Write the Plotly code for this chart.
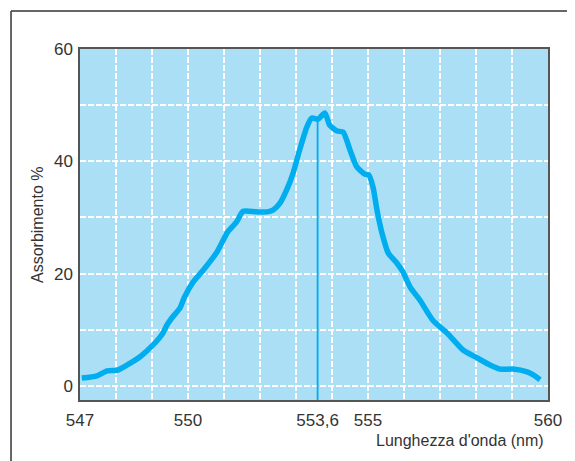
import plotly.graph_objects as go

wavelength = [547.05, 547.47, 547.75, 548.03, 548.3, 548.67, 549.03, 549.3, 549.42, 549.55,
              549.78, 549.9, 550.14, 550.42, 550.8, 551.1, 551.35, 551.53, 551.9, 552.2,
              552.36, 552.56, 552.74, 552.92, 553.1, 553.3, 553.44, 553.61, 553.8, 553.94,
              554.14, 554.31, 554.5, 554.69, 554.92, 555.02, 555.14, 555.25, 555.39, 555.56,
              555.8, 555.97, 556.17, 556.44, 556.8, 557.2, 557.64, 558.03, 558.4, 558.67,
              559.03, 559.42, 559.58, 559.78]
absorbance = [1.4, 1.8, 2.7, 2.8, 3.7, 5.2, 7.3, 9.4, 10.9, 12.1,
              13.9, 15.8, 18.5, 20.6, 23.8, 27.4, 29.2, 31.1, 31.0, 31.0,
              31.3, 32.6, 34.9, 37.9, 42.0, 46.1, 47.7, 47.5, 48.6, 46.4,
              45.4, 45.2, 42.0, 39.0, 37.7, 37.6, 35.4, 31.3, 27.2, 23.7,
              21.9, 20.3, 17.6, 15.3, 11.7, 9.4, 6.4, 5.0, 3.7, 3.0,
              3.0, 2.5, 2.0, 1.1]

peak_wavelength = 553.6
peak_value = 47.5

x_tickvals = [547, 550, 553.6, 555, 560]
x_ticktext = ["547", "550", "553,6", "555", "560"]
y_tickvals = [0, 10, 20, 30, 40, 50, 60]
y_ticktext = ["0", "", "20", "", "40", "", "60"]

x_range = [547, 560]
y_range = [-2.5, 60]

FONT = "Liberation Sans, Arial, sans-serif"
BLUE = "#00AEEF"
TXT = "#333333"

fig = go.Figure()
fig.add_trace(go.Scatter(
    x=[peak_wavelength, peak_wavelength], y=[y_range[0], peak_value],
    mode="lines", line=dict(color=BLUE, width=1.8), hoverinfo="skip", showlegend=False))
fig.add_trace(go.Scatter(
    x=wavelength, y=absorbance, mode="lines",
    line=dict(color=BLUE, width=5.5, shape="spline", smoothing=0.6),
    showlegend=False))

fig.update_layout(
    width=567, height=453,
    margin=dict(l=72, r=27, t=41, b=61),
    paper_bgcolor="white", plot_bgcolor="#ABDFF6",
    font=dict(family=FONT, size=17, color=TXT),
    xaxis=dict(range=x_range, tickvals=x_tickvals, ticktext=x_ticktext,
               showgrid=False, zeroline=False,
               showline=True, mirror=True, linecolor="#555555", linewidth=1.5,
               ticks="outside", ticklen=4, tickcolor="rgba(0,0,0,0)",
               minor=dict(tick0=547, dtick=1, showgrid=True, gridcolor="white",
                          gridwidth=1.6, griddash="6px,2px", ticks="")),
    yaxis=dict(range=y_range, tickvals=y_tickvals, ticktext=y_ticktext,
               showgrid=True, gridcolor="white", gridwidth=1.6, griddash="6px,2px",
               zeroline=False,
               showline=True, mirror=True, linecolor="#555555", linewidth=1.5,
               ticks="outside", ticklen=2, tickcolor="rgba(0,0,0,0)"),
    annotations=[
        dict(text="Lunghezza d'onda (nm)", xref="paper", yref="paper",
             x=0.996, y=-0.114, xanchor="right", yanchor="middle",
             showarrow=False, font=dict(family=FONT, size=16, color=TXT)),
        dict(text="Assorbimento %", xref="paper", yref="paper",
             x=-0.0897, y=0.4986, xanchor="center", yanchor="middle",
             textangle=-90, showarrow=False, font=dict(family=FONT, size=16, color=TXT)),
    ],
    shapes=[
        dict(type="line", xref="paper", yref="paper", x0=-0.1474, x1=-0.1474,
             y0=-0.18, y1=1.1083, line=dict(color="#333333", width=1.5)),
        dict(type="line", xref="paper", yref="paper", x0=-0.1474, x1=1.06,
             y0=1.1083, y1=1.1083, line=dict(color="#333333", width=1.5)),
    ],
)

fig.write_html("out.html")
